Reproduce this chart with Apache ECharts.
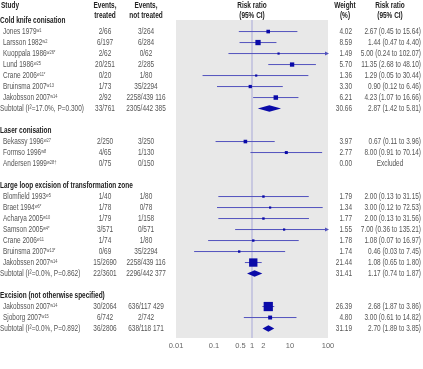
<!DOCTYPE html>
<html><head><meta charset="utf-8">
<script src="https://cdn.jsdelivr.net/npm/echarts@6/dist/echarts.min.js"></script>
<style>html,body{margin:0;padding:0;background:#fff}#c{width:423px;height:369px}</style>
</head><body><div id="c"></div><script>
// ---------- data ----------
const groups = ["Cold knife conisation","Laser conisation","Large loop excision of transformation zone","Excision (not otherwise specified)"];
const studyGroup = [0,0,0,0,0,0,0,1,1,1,2,2,2,2,2,2,2,3,3];
const studyNames = ["Jones 1979","Larsson 1982","Kuoppala 1986","Lund 1986","Crane 2006","Bruinsma 2007","Jakobsson 2007","Bekassy 1996","Formso 1996","Andersen 1999","Blomfield 1993","Braet 1994","Acharya 2005","Samson 2005","Crane 2006","Bruinsma 2007","Jakobssen 2007","Jakobsson 2007","Sjoborg 2007"];
const studyRefs = ["w1","w2","w26*","w25","w11*","w13","w14","w27","w8","w28†","w5","w6*","w10","w4*","w11","w13*","w14","w14","w15"];
const eventsTreated = ["2/66","6/197","2/62","20/251","0/20","1/73","2/92","2/250","4/65","0/75","1/40","1/78","1/79","3/571","1/74","0/69","15/2690","30/2064","6/742"];
const eventsControl = ["3/264","6/284","0/62","2/285","1/80","35/2294","2258/439 116","3/250","1/130","0/150","1/80","0/78","1/158","0/571","1/80","35/2294","2258/439 116","636/117 429","2/742"];
const weights = [4.02,8.59,1.49,5.70,1.36,3.30,6.21,3.97,2.77,0.00,1.79,1.34,1.77,1.55,1.78,1.74,21.44,26.39,4.80];
const rr = [2.67,1.44,5.00,11.35,1.29,0.90,4.23,0.67,8.00,null,2.00,3.00,2.00,7.00,1.08,0.46,1.08,2.68,3.00];
const lo = [0.45,0.47,0.24,2.68,0.05,0.12,1.07,0.11,0.91,null,0.13,0.12,0.13,0.36,0.07,0.03,0.65,1.87,0.61];
const hi = [15.64,4.40,102.07,48.10,30.44,6.46,16.66,3.96,70.14,null,31.15,72.53,31.56,135.21,16.97,7.45,1.80,3.86,14.82];

const subLabels = ["Subtotal (I²=17.0%, P=0.300)", null, "Subtotal (I²=0.0%, P=0.862)", "Subtotal (I²=0.0%, P=0.892)"];
const subTreated = ["33/761", null, "22/3601", "36/2806"];
const subControl = ["2305/442 385", null, "2296/442 377", "638/118 171"];
const subWeight = [30.66, null, 31.41, 31.19];
const subRR = [2.87, null, 1.17, 2.70];
const subLo = [1.42, null, 0.74, 1.89];
const subHi = [5.81, null, 1.87, 3.85];

const tickValues = [0.01, 0.1, 0.5, 1, 2, 10, 100];
const nullValue = 1;

// ---------- layout of rows ----------
const rows = [];
let r = 0;
groups.forEach((g, gi) => {
  rows.push({type:'head', y:r++, gi});
  studyNames.forEach((n, i) => { if (studyGroup[i] === gi) rows.push({type:'study', y:r++, i}); });
  if (subLabels[gi]) rows.push({type:'sub', y:r++, gi});
  r++;
});
const Y_MIN = -0.05, Y_MAX = 28.86;

const FONT = '"Liberation Sans",Arial,sans-serif';
const FS = 9;
const SX = 0.72;
const TXT = '#555';
const BOX = '#0a0aa8';
const CI = '#5252bd';
const X_MIN = 0.01, X_MAX = 100;
const fmt = v => v.toFixed(2);
const rrText = (v, l, h) => fmt(v) + ' (' + fmt(l) + ' to ' + fmt(h) + ')';

function renderItem(params, api) {
  const row = rows[params.dataIndex];
  const yPx = api.coord([1, row.y])[1];
  const xp = v => api.coord([Math.min(Math.max(v, X_MIN), X_MAX), row.y])[0];
  const ch = [];
  const txt = (x, text, opt) => ({type:'text', x: x, y: yPx, scaleX: SX,
    style: Object.assign({text: text, fill: TXT, font: FS + 'px ' + FONT, align: 'left', verticalAlign: 'middle'}, opt || {})});
  if (row.type === 'head') {
    ch.push(txt(0, groups[row.gi], {fill:'#222', font:'bold ' + FS + 'px ' + FONT}));
  } else if (row.type === 'study') {
    const i = row.i;
    ch.push(txt(3, studyNames[i] + '{s|' + studyRefs[i] + '}', {rich:{s:{fontSize:5.5, fill:TXT, fontFamily:FONT, verticalAlign:'top', padding:[0,0,3,0]}}}));
    ch.push(txt(105, eventsTreated[i], {align:'center'}));
    ch.push(txt(146, eventsControl[i], {align:'center'}));
    ch.push(txt(352, fmt(weights[i]), {align:'right'}));
    if (rr[i] == null) {
      ch.push(txt(390, 'Excluded', {align:'center'}));
    } else {
      ch.push(txt(421, rrText(rr[i], lo[i], hi[i]), {align:'right'}));
      const x1 = xp(lo[i]), x2 = xp(hi[i]);
      ch.push({type:'line', shape:{x1:x1, y1:yPx, x2:x2, y2:yPx}, style:{stroke:CI, lineWidth:1}});
      if (hi[i] > X_MAX) {
        ch.push({type:'polygon', shape:{points:[[x2+1, yPx],[x2-3, yPx-2],[x2-3, yPx+2]]}, style:{fill:CI}});
      }
      const s = Math.max(2.2, Math.sqrt(weights[i]) * 1.8);
      const xc = xp(rr[i]);
      ch.push({type:'rect', shape:{x:xc - s/2, y:yPx - s/2, width:s, height:s}, style:{fill:BOX}});
    }
  } else if (row.type === 'sub') {
    const g = row.gi;
    ch.push(txt(0, subLabels[g]));
    ch.push(txt(105, subTreated[g], {align:'center'}));
    ch.push(txt(146, subControl[g], {align:'center'}));
    ch.push(txt(352, fmt(subWeight[g]), {align:'right'}));
    ch.push(txt(421, rrText(subRR[g], subLo[g], subHi[g]), {align:'right'}));
    const xl = xp(subLo[g]), xh = xp(subHi[g]), xc = xp(subRR[g]);
    ch.push({type:'polygon', shape:{points:[[xl, yPx],[xc, yPx-3.2],[xh, yPx],[xc, yPx+3.2]]}, style:{fill:BOX}});
  }
  return {type:'group', children: ch};
}

const hdr = (x, y, text, align) => ({type:'text', x:x, y:y, scaleX: SX,
  style:{text:text, fill:'#222', font:'bold ' + FS + 'px ' + FONT, align:align, verticalAlign:'middle'}});

const chart = echarts.init(document.getElementById('c'), null, {renderer:'canvas'});
chart.setOption({
  animation: false,
  grid: {left:176, right:95, top:20, bottom:31, show:true, backgroundColor:'#e8e8e8', borderWidth:0},
  xAxis: {type:'log', logBase:10, min:X_MIN, max:X_MAX,
    axisLine:{show:false}, splitLine:{show:false},
    axisTick:{show:false},
    axisLabel:{customValues: tickValues, color:'#666', fontSize:7.5, fontFamily:FONT, margin:4,
      formatter: v => String(+Number(v).toPrecision(6)), showMinLabel:true, showMaxLabel:true}},
  yAxis: {type:'value', inverse:true, min:Y_MIN, max:Y_MAX, show:false},
  graphic: [
    hdr(1, 6, 'Study', 'left'),
    hdr(105, 6, 'Events,', 'center'), hdr(105, 16, 'treated', 'center'),
    hdr(146, 6, 'Events,', 'center'), hdr(146, 16, 'not treated', 'center'),
    hdr(252, 6, 'Risk ratio', 'center'), hdr(252, 16, '(95% CI)', 'center'),
    hdr(345, 6, 'Weight', 'center'), hdr(345, 16, '(%)', 'center'),
    hdr(390, 6, 'Risk ratio', 'center'), hdr(390, 16, '(95% CI)', 'center')
  ],
  series: [{
    type:'line', silent:true, symbol:'none', z:1,
    data:[[nullValue, Y_MIN], [nullValue, Y_MAX]],
    lineStyle:{color:'#a8a8d8', width:1}
  }, {
    type:'custom', clip:false, silent:true,
    data: rows.map(rw => [1, rw.y]),
    encode:{x:0, y:1},
    renderItem: renderItem,
    z: 3
  }]
});
</script></body></html>
